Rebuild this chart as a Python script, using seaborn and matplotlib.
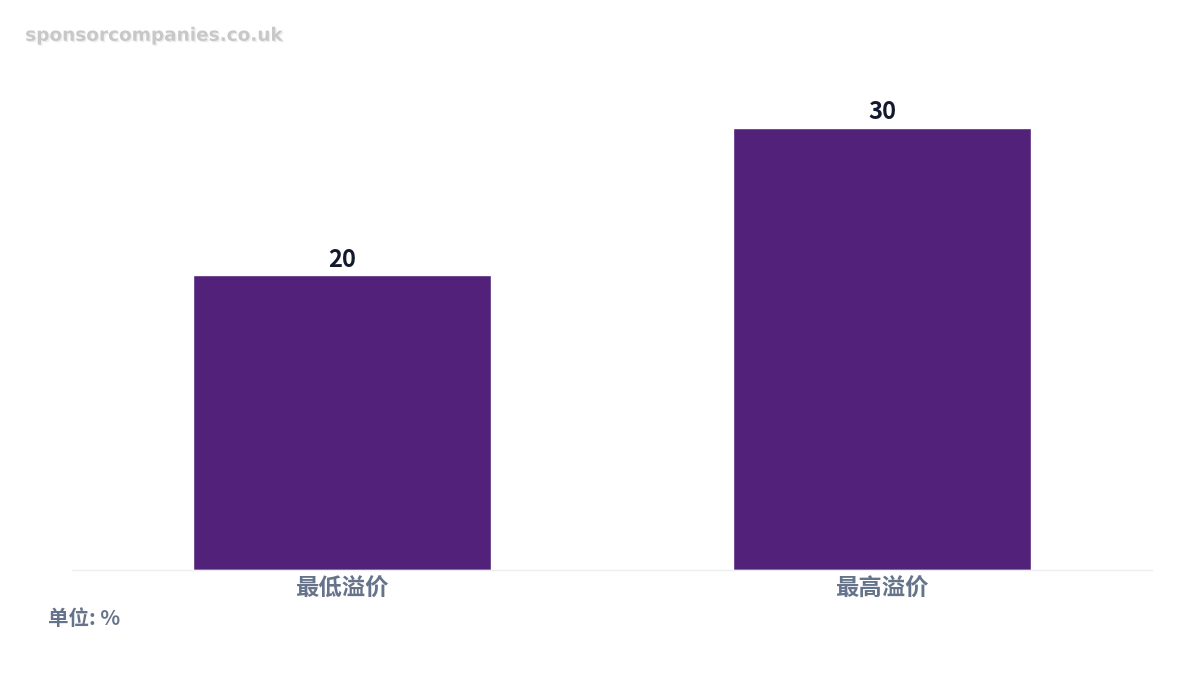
import matplotlib
matplotlib.use("Agg")
import matplotlib.pyplot as plt
import matplotlib.patheffects as pe
import seaborn as sns
import pandas as pd

categories = ["最低溢价", "最高溢价"]
values = [20, 30]

sns.set_theme(style="white")
plt.rcParams['font.family'] = ['Noto Sans CJK SC', 'DejaVu Sans']

df = pd.DataFrame({"category": categories, "value": values})

fig = plt.figure(figsize=(12, 6.75), dpi=100)
ax = fig.add_axes([0.06, 0.1556, 0.90, 0.717])

sns.barplot(data=df, x="category", y="value", color="#52217a", width=0.552,
            saturation=1, ax=ax)

for i, v in enumerate(values):
    ax.text(i, v + 0.25, str(v), ha="center", va="bottom", fontsize=17,
            fontweight="bold", color="#141a2e")

ax.set_xlim(-0.5, 1.5)
ax.set_ylim(0, 32.85)
ax.set_xlabel("")
ax.set_ylabel("")
ax.set_yticks([])
ax.tick_params(axis="x", length=0, pad=5)
for lbl in ax.get_xticklabels():
    lbl.set_fontsize(16.8)
    lbl.set_fontweight("bold")
    lbl.set_color("#66748b")

for s in ["top", "right", "left"]:
    ax.spines[s].set_visible(False)
ax.spines["bottom"].set_color("#eceef2")
ax.spines["bottom"].set_linewidth(1)

fig.text(0.04, 0.084, "单位: %", fontsize=14.8, fontweight="bold", color="#66748b",
         ha="left", va="center")

fig.text(0.021, 0.947, "sponsorcompanies.co.uk", fontsize=13.3, fontweight="bold",
         color="#c8c8c8", ha="left", va="center", family="DejaVu Sans",
         path_effects=[pe.withSimplePatchShadow(offset=(1, -1), shadow_rgbFace="#eeeeee", alpha=1)])

fig.savefig("out.png", dpi=100)
